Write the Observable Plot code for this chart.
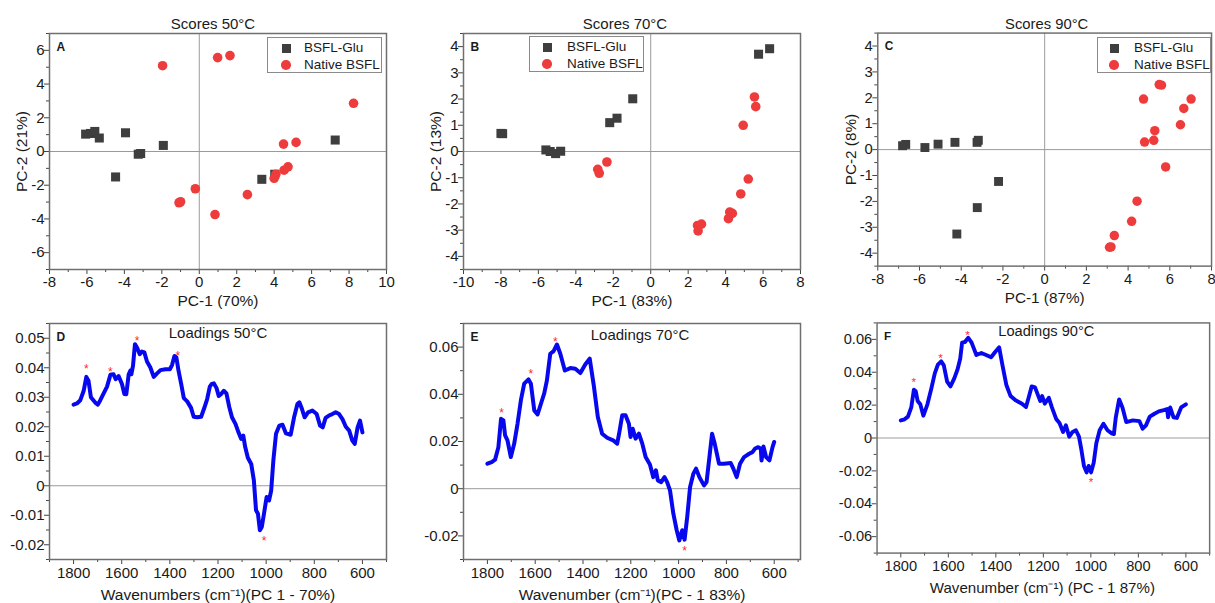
<!DOCTYPE html>
<html>
<head>
<meta charset="utf-8">
<script src="https://cdn.jsdelivr.net/npm/d3@7"></script>
<script src="https://cdn.jsdelivr.net/npm/@observablehq/plot@0.6"></script>
<style>
  body { margin: 0; background: #fff; }
  #wrap { position: relative; width: 1215px; height: 603px; overflow: hidden; background: #fff;
          font-family: "Liberation Sans", Arial, sans-serif; }
  .panel { position: absolute; }
  .legend { position: absolute; border: 1px solid #8a8a8a; background: #fff; box-sizing: border-box; }
  .legend .mk { position: absolute; }
  .legend .lb { position: absolute; font-size: 13.5px; color: #1a1a1a; line-height: 14px; white-space: nowrap; }
</style>
</head>
<body>
<div id="wrap"></div>
<script>
// ---------------- DATA ----------------
const seriesNames = ["BSFL-Glu", "Native BSFL"];

// Scores [PC-1, PC-2]
const scoresA_glu = [[-6.07,1.03],[-5.81,1.07],[-5.58,1.19],[-5.34,0.8],[-3.94,1.11],[-3.26,-0.16],[-3.13,-0.12],[-4.47,-1.51],[-1.92,0.36],[3.34,-1.65],[4.03,-1.35],[7.26,0.68]];
const scoresA_native = [[-1.96,5.09],[0.98,5.57],[1.64,5.69],[8.24,2.86],[4.5,0.44],[5.17,0.54],[4.74,-0.91],[4.53,-1.11],[4.09,-1.35],[4.0,-1.59],[2.57,-2.56],[-0.21,-2.21],[0.84,-3.74],[-1.08,-3.04],[-1.0,-2.98]];

const scoresB_glu = [[-7.91,0.68],[-8.0,0.69],[-5.6,0.06],[-5.37,0.0],[-5.08,-0.08],[-4.81,0.01],[-2.19,1.10],[-1.80,1.27],[-0.96,2.01],[5.76,3.71],[6.35,3.92]];
const scoresB_native = [[-2.83,-0.68],[-2.75,-0.83],[-2.34,-0.40],[5.54,2.08],[5.61,1.71],[4.94,1.0],[5.21,-1.05],[4.81,-1.62],[4.22,-2.31],[4.36,-2.36],[4.15,-2.56],[2.5,-2.82],[2.71,-2.77],[2.53,-3.03]];

const scoresC_glu = [[-6.81,0.15],[-6.66,0.2],[-5.74,0.08],[-5.11,0.21],[-4.3,0.28],[-3.24,0.28],[-3.18,0.36],[-2.21,-1.23],[-3.23,-2.24],[-4.21,-3.26]];
const scoresC_native = [[4.74,1.95],[5.49,2.51],[5.6,2.49],[7.02,1.95],[6.67,1.59],[6.51,0.96],[5.28,0.73],[5.23,0.36],[4.79,0.29],[5.8,-0.67],[4.43,-1.99],[4.17,-2.77],[3.34,-3.32],[3.11,-3.77],[3.18,-3.76]];

// Loadings [wavenumber, loading]
const loadingsD = [[1800,0.0275],[1786,0.0279],[1772,0.029],[1758,0.0322],[1747,0.0369],[1738,0.0356],[1728,0.030],[1710,0.0282],[1699,0.0275],[1689,0.029],[1675,0.0313],[1661,0.0336],[1647,0.0376],[1634,0.0378],[1625,0.0361],[1613,0.0372],[1599,0.0345],[1589,0.0311],[1581,0.031],[1571,0.0378],[1564,0.039],[1560,0.0378],[1553,0.0407],[1545,0.048],[1536,0.0468],[1525,0.0446],[1516,0.0455],[1506,0.0452],[1495,0.0421],[1481,0.0401],[1467,0.0369],[1453,0.0381],[1439,0.0392],[1418,0.0395],[1400,0.0395],[1391,0.0409],[1381,0.044],[1373,0.0435],[1364,0.039],[1353,0.0345],[1342,0.0297],[1328,0.0286],[1312,0.0264],[1301,0.0234],[1287,0.0232],[1270,0.0234],[1256,0.0266],[1245,0.0294],[1234,0.0336],[1226,0.0345],[1217,0.0347],[1206,0.0331],[1197,0.0304],[1187,0.0311],[1176,0.0322],[1165,0.0313],[1153,0.0266],[1142,0.0232],[1127,0.0209],[1115,0.0181],[1104,0.0159],[1095,0.017],[1087,0.0131],[1076,0.0095],[1062,0.0074],[1051,0.0018],[1042,-0.0083],[1034,-0.0095],[1026,-0.0151],[1018,-0.014],[1009,-0.0095],[998,-0.0038],[988,-0.005],[979,-0.0016],[970,0.0086],[959,0.0176],[945,0.0204],[932,0.0207],[918,0.0178],[898,0.0173],[884,0.0232],[870,0.0277],[862,0.0283],[851,0.026],[840,0.0232],[826,0.0249],[808,0.0255],[790,0.0243],[776,0.0204],[765,0.0198],[753,0.023],[739,0.0238],[725,0.0243],[711,0.0249],[697,0.0243],[683,0.0226],[669,0.02],[655,0.0187],[642,0.0153],[632,0.0142],[620,0.0198],[610,0.0221],[600,0.0181]];
const starsD = [[1747,0.0404],[1647,0.0396],[1536,0.05],[1367,0.0449],[1009,-0.0179]];

const loadingsE = [[1800,0.0106],[1782,0.0113],[1768,0.0123],[1754,0.0176],[1743,0.0296],[1733,0.0289],[1726,0.0226],[1716,0.0205],[1702,0.0134],[1688,0.019],[1674,0.0275],[1660,0.0374],[1646,0.0445],[1628,0.0463],[1618,0.0445],[1604,0.0332],[1590,0.0315],[1576,0.036],[1562,0.0405],[1551,0.0459],[1537,0.0572],[1523,0.0583],[1509,0.0611],[1495,0.0572],[1476,0.0501],[1453,0.0511],[1432,0.0508],[1411,0.049],[1390,0.0527],[1372,0.0551],[1355,0.0438],[1338,0.0304],[1320,0.0233],[1299,0.0216],[1274,0.0205],[1257,0.0191],[1249,0.0233],[1236,0.0311],[1222,0.0311],[1208,0.0275],[1201,0.0219],[1192,0.0254],[1180,0.0212],[1166,0.0233],[1152,0.0191],[1138,0.0134],[1120,0.0103],[1106,0.0049],[1095,0.0078],[1087,0.0035],[1073,0.0028],[1059,0.0049],[1048,0.0028],[1036,-0.0007],[1022,-0.0106],[1008,-0.0176],[997,-0.0219],[985,-0.0176],[975,-0.0216],[964,-0.012],[952,0.0007],[938,0.0064],[927,0.0085],[913,0.0049],[894,0.0014],[883,0.0028],[871,0.0134],[860,0.0233],[849,0.0191],[831,0.0106],[810,0.0106],[782,0.0109],[771,0.0085],[757,0.0049],[743,0.0106],[726,0.0134],[705,0.0148],[691,0.0155],[681,0.0169],[667,0.0176],[656,0.0169],[653,0.012],[645,0.0179],[634,0.0134],[620,0.012],[607,0.0176],[600,0.0198]];
const starsE = [[1741,0.0332],[1618,0.0498],[1516,0.0633],[975,-0.0251]];

const loadingsF = [[1800,0.0107],[1784,0.0114],[1770,0.013],[1756,0.0186],[1745,0.0294],[1737,0.0284],[1729,0.0225],[1718,0.0205],[1705,0.0136],[1688,0.0205],[1671,0.0304],[1657,0.0393],[1644,0.0446],[1630,0.0466],[1619,0.0442],[1605,0.0343],[1591,0.0314],[1575,0.0363],[1561,0.0418],[1550,0.0482],[1542,0.058],[1530,0.0584],[1516,0.061],[1502,0.058],[1482,0.0505],[1461,0.0517],[1441,0.0505],[1420,0.0491],[1402,0.0525],[1386,0.0551],[1372,0.0442],[1356,0.0324],[1338,0.0255],[1317,0.0229],[1290,0.0209],[1273,0.0189],[1262,0.0245],[1249,0.0314],[1235,0.0308],[1221,0.0255],[1213,0.0225],[1205,0.0255],[1194,0.0209],[1177,0.0245],[1164,0.0186],[1146,0.0116],[1132,0.0091],[1117,0.0037],[1105,0.0077],[1091,0.0008],[1077,0.0037],[1063,0.0047],[1050,0.0008],[1040,-0.0071],[1029,-0.017],[1018,-0.0209],[1009,-0.017],[999,-0.0209],[988,-0.015],[977,-0.0032],[963,0.0047],[947,0.0087],[930,0.0047],[912,0.0028],[903,0.0024],[895,0.0126],[881,0.0235],[867,0.0186],[851,0.0097],[823,0.0107],[796,0.0103],[782,0.0057],[768,0.0077],[752,0.013],[734,0.0146],[714,0.0162],[693,0.017],[679,0.0176],[675,0.0126],[666,0.0186],[652,0.0126],[638,0.0122],[620,0.0186],[600,0.0205]];
const starsF = [[1745,0.0357],[1633,0.0501],[1519,0.064],[999,-0.0253]];

// Tick values
const ticksA_x = [-8,-6,-4,-2,0,2,4,6,8,10];
const ticksA_xMinor = [-7,-5,-3,-1,1,3,5,7,9];
const ticksA_y = [-6,-4,-2,0,2,4,6];
const ticksA_yMinor = [-7,-5,-3,-1,1,3,5,7];
const ticksB_x = [-10,-8,-6,-4,-2,0,2,4,6,8];
const ticksB_xMinor = [-9,-7,-5,-3,-1,1,3,5,7];
const ticksBC_y = [-4,-3,-2,-1,0,1,2,3,4];
const ticksBC_yMinor = [-4.5,-3.5,-2.5,-1.5,-0.5,0.5,1.5,2.5,3.5,4.5];
const ticksC_x = [-8,-6,-4,-2,0,2,4,6,8];
const ticksC_xMinor = [-7,-5,-3,-1,1,3,5,7];
const ticksWn = [1800,1600,1400,1200,1000,800,600];
const ticksWnMinor = [1900,1700,1500,1300,1100,900,700,500];
const ticksD_y = [-0.02,-0.01,0,0.01,0.02,0.03,0.04,0.05];
const ticksD_yMinor = [-0.025,-0.015,-0.005,0.005,0.015,0.025,0.035,0.045,0.055];
const ticksE_y = [-0.02,0,0.02,0.04,0.06];
const ticksE_yMinor = [-0.03,-0.01,0.01,0.03,0.05,0.07];
const ticksF_y = [-0.06,-0.04,-0.02,0,0.02,0.04,0.06];
const ticksF_yMinor = [-0.07,-0.05,-0.03,-0.01,0.01,0.03,0.05,0.07];

// ---------------- DRAWING ----------------
const FONT = '"Liberation Sans", Arial, sans-serif';
const INK = "#1a1a1a";
const fmt = d => String(d);
const wrap = document.getElementById("wrap");

function axisMarks(o, pad) {
  return [
    Plot.axisX(o.xMinor, {tickSize: 3, tickFormat: () => "", label: null, stroke: "#444"}),
    Plot.axisX(o.xMajor, {tickSize: 5, tickPadding: pad, tickFormat: fmt, label: null, stroke: "#444", fill: INK, fontSize: 15}),
    Plot.axisY(o.yMinor, {tickSize: 3, tickFormat: () => "", label: null, stroke: "#444"}),
    Plot.axisY(o.yMajor, {tickSize: 5, tickPadding: 0, tickFormat: fmt, label: null, stroke: "#444", fill: INK, fontSize: 15})
  ];
}

function place(svg, left, top) {
  const d = document.createElement("div");
  d.className = "panel";
  d.style.left = left + "px";
  d.style.top = top + "px";
  d.appendChild(svg);
  wrap.appendChild(d);
}

function scorePanel(o) {
  const svg = Plot.plot({
    width: o.width, height: 310,
    marginLeft: o.mL, marginRight: o.mR, marginTop: 33, marginBottom: 41,
    style: {fontFamily: FONT, fontSize: "15px", color: INK, background: "transparent", overflow: "visible"},
    x: {domain: o.xDomain},
    y: {domain: [o.yDomain[0], o.yDomain[1]]},
    marks: [
      Plot.ruleX([0], {stroke: "#9a9a9a", strokeWidth: 1}),
      Plot.ruleY([0], {stroke: "#9a9a9a", strokeWidth: 1}),
      ...axisMarks(o, 2),
      Plot.frame({stroke: "#6f6f6f", strokeWidth: 1.5}),
      Plot.dot(o.glu, {x: d => d[0], y: d => d[1], symbol: "square", r: 5.1, fill: "#3e3e3e"}),
      Plot.dot(o.native, {x: d => d[0], y: d => d[1], symbol: "circle", r: 4.8, fill: "#ee3b3b"}),
      Plot.text([o.title], {text: d => d, frameAnchor: "top", lineAnchor: "middle", dy: -9, dx: o.tdx, fontSize: 15, fill: INK}),
      Plot.text([o.letter], {text: d => d, frameAnchor: "top-left", textAnchor: "start", lineAnchor: "top", dx: 7, dy: 9, fontSize: 12, fontWeight: "bold", fill: INK}),
      Plot.text([o.xLabel], {text: d => d, frameAnchor: "bottom", lineAnchor: "middle", dy: 32, fontSize: 15.5, fill: INK}),
      Plot.text([o.yLabel], {text: d => d, frameAnchor: "left", lineAnchor: "middle", textAnchor: "middle", rotate: -90, dx: -27, fontSize: 15.5, fill: INK})
    ]
  });
  place(svg, o.left, 0);
  // legend
  const lg = document.createElement("div");
  lg.className = "legend";
  Object.assign(lg.style, {left: o.lg.x + "px", top: o.lg.y + "px", width: o.lg.w + "px", height: "36px"});
  const rows = [
    {name: seriesNames[0], color: "#3e3e3e", radius: "0", size: 9, cy: 10.5},
    {name: seriesNames[1], color: "#ee3b3b", radius: "50%", size: 9.6, cy: 27}
  ];
  for (const r of rows) {
    const m = document.createElement("div");
    m.className = "mk";
    Object.assign(m.style, {left: (o.lg.mx - r.size / 2) + "px", top: (r.cy - r.size / 2) + "px",
      width: r.size + "px", height: r.size + "px", background: r.color, borderRadius: r.radius});
    lg.appendChild(m);
    const t = document.createElement("div");
    t.className = "lb";
    t.textContent = r.name;
    Object.assign(t.style, {left: o.lg.tx + "px", top: (r.cy - 7.5) + "px"});
    lg.appendChild(t);
  }
  wrap.appendChild(lg);
}

function loadingPanel(o) {
  const svg = Plot.plot({
    width: o.width, height: 303,
    marginLeft: o.mL, marginRight: o.mR, marginTop: 23, marginBottom: 44,
    style: {fontFamily: FONT, fontSize: "15px", color: INK, background: "transparent", overflow: "visible"},
    x: {domain: o.xDomain},
    y: {domain: o.yDomain},
    marks: [
      Plot.ruleY([0], {stroke: "#9a9a9a", strokeWidth: 1}),
      ...axisMarks(o, 3),
      Plot.frame({stroke: "#6f6f6f", strokeWidth: 1.5}),
      Plot.line(o.data, {x: d => d[0], y: d => d[1], stroke: "#0808ee", strokeWidth: 4, strokeLinejoin: "round", strokeLinecap: "round"}),
      Plot.text(o.stars, {x: d => d[0], y: d => d[1], text: () => "*", fill: "#ff2a2a", fontSize: 12, dy: 3}),
      Plot.text([o.title], {text: d => d, frameAnchor: "top", lineAnchor: "middle", dy: o.tdy, dx: o.tdx, fontSize: 15, fill: INK}),
      Plot.text([o.letter], {text: d => d, frameAnchor: "top-left", textAnchor: "start", lineAnchor: "top", dx: 7, dy: 9, fontSize: 12, fontWeight: "bold", fill: INK}),
      Plot.text([o.xLabel], {text: d => d, frameAnchor: "bottom", lineAnchor: "middle", dy: 36, dx: o.ldx, fontSize: 15.5, fill: INK})
    ]
  });
  place(svg, o.left, 300);
}

scorePanel({left: 0, width: 400, mL: 49, mR: 14, xDomain: [-8, 10], yDomain: [-7, 7],
  xMajor: ticksA_x, xMinor: ticksA_xMinor, yMajor: ticksA_y, yMinor: ticksA_yMinor,
  glu: scoresA_glu, native: scoresA_native, title: "Scores 50°C", tdx: -5, letter: "A",
  xLabel: "PC-1 (70%)", yLabel: "PC-2 (21%)",
  lg: {x: 267, y: 37, w: 115, mx: 18, tx: 36}});

scorePanel({left: 405, width: 405, mL: 58, mR: 10, xDomain: [-10, 8], yDomain: [-4.5, 4.5],
  xMajor: ticksB_x, xMinor: ticksB_xMinor, yMajor: ticksBC_y, yMinor: ticksBC_yMinor,
  glu: scoresB_glu, native: scoresB_native, title: "Scores 70°C", tdx: -7, letter: "B",
  xLabel: "PC-1 (83%)", yLabel: "PC-2 (13%)",
  lg: {x: 529, y: 36, w: 115, mx: 17, tx: 37}});

scorePanel({left: 820, width: 400, mL: 58, mR: 4, xDomain: [-8, 8], yDomain: [-4.5, 4.5],
  xMajor: ticksC_x, xMinor: ticksC_xMinor, yMajor: ticksBC_y, yMinor: ticksBC_yMinor,
  glu: scoresC_glu, native: scoresC_native, title: "Scores 90°C", tdx: 2, letter: "C",
  xLabel: "PC-1 (87%)", yLabel: "PC-2 (8%)",
  lg: {x: 1097, y: 37, w: 114, mx: 16, tx: 36}});

loadingPanel({left: 0, width: 400, mL: 49, mR: 14, xDomain: [1900, 500], yDomain: [-0.025, 0.055],
  xMajor: ticksWn, xMinor: ticksWnMinor, yMajor: ticksD_y, yMinor: ticksD_yMinor,
  data: loadingsD, stars: starsD, title: "Loadings 50°C", tdx: 0, tdy: 10, letter: "D",
  xLabel: "Wavenumbers (cm⁻¹)(PC 1 - 70%)", ldx: 0});

loadingPanel({left: 405, width: 405, mL: 58, mR: 10, xDomain: [1900, 490], yDomain: [-0.03, 0.07],
  xMajor: ticksWn, xMinor: ticksWnMinor, yMajor: ticksE_y, yMinor: ticksE_yMinor,
  data: loadingsE, stars: starsE, title: "Loadings 70°C", tdx: 8, tdy: 12, letter: "E",
  xLabel: "Wavenumber (cm⁻¹)(PC - 1 83%)", ldx: 0});

loadingPanel({left: 820, width: 405, mL: 58, mR: 6, xDomain: [1900, 500], yDomain: [-0.07, 0.07],
  xMajor: ticksWn, xMinor: ticksWnMinor, yMajor: ticksF_y, yMinor: ticksF_yMinor,
  data: loadingsF, stars: starsF, title: "Loadings 90°C", tdx: 3, tdy: 9, letter: "F",
  xLabel: "Wavenumber (cm⁻¹) (PC - 1 87%)", ldx: -1});
</script>
</body>
</html>
